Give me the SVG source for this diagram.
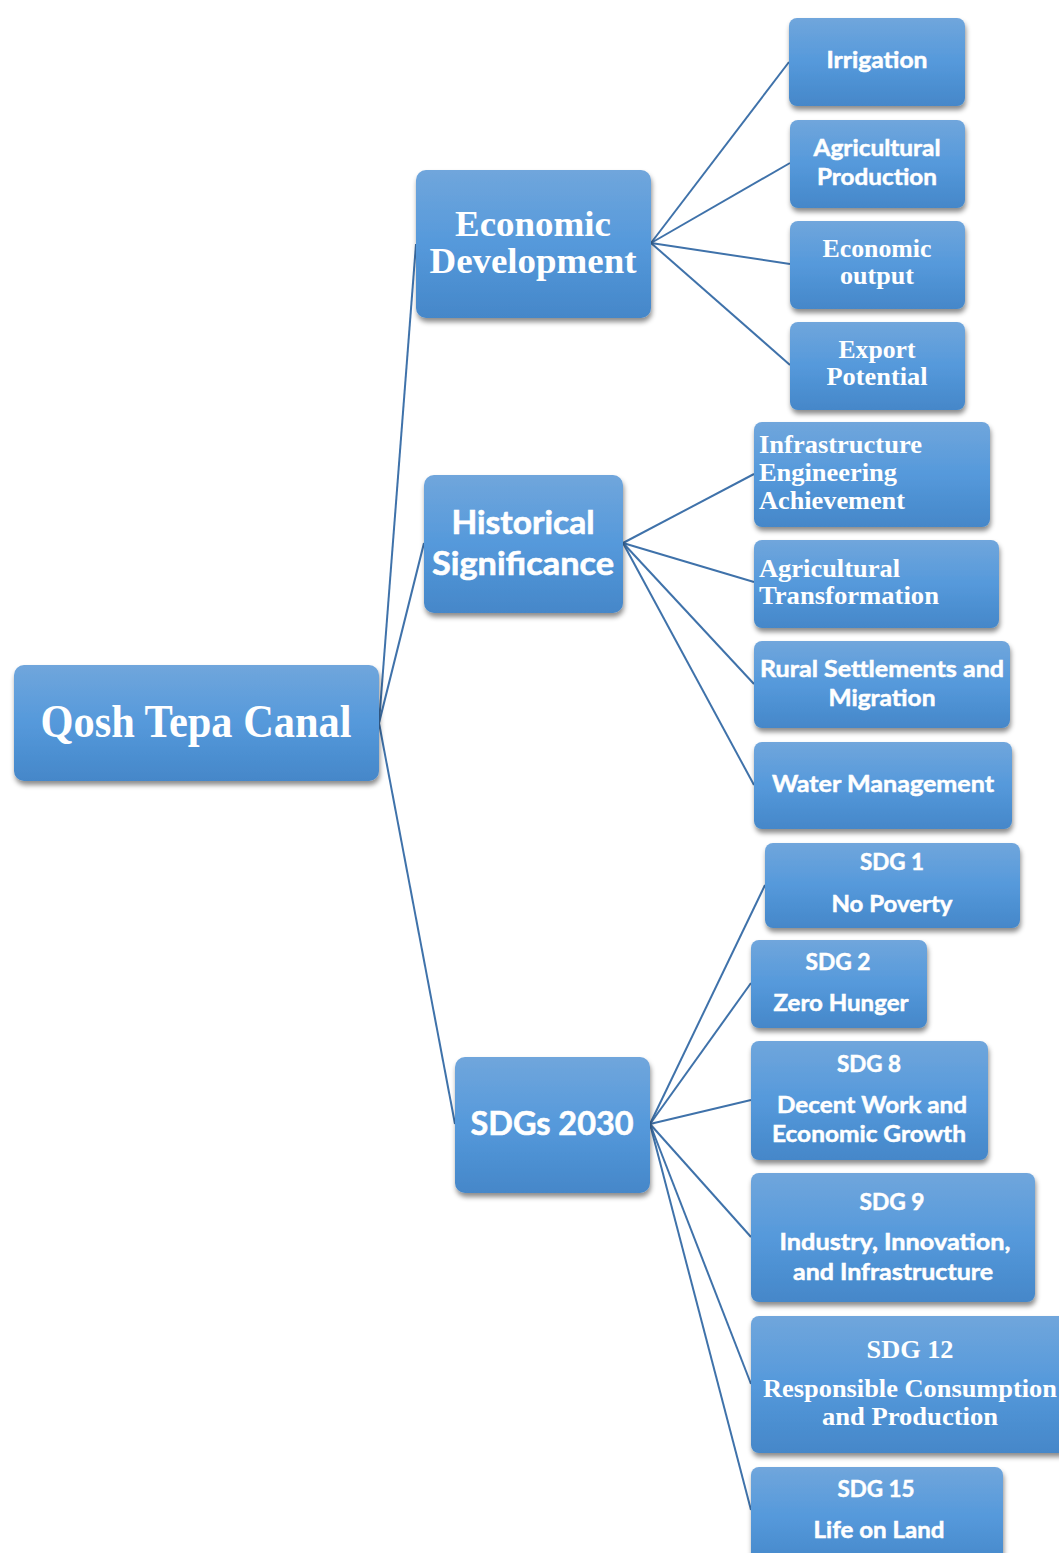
<svg xmlns="http://www.w3.org/2000/svg" width="1059" height="1553" viewBox="0 0 1059 1553">
<defs>
<linearGradient id="g" x1="0" y1="0" x2="0" y2="1">
<stop offset="0" stop-color="#70A6DC"/>
<stop offset="0.5" stop-color="#5599DB"/>
<stop offset="1" stop-color="#4587C9"/>
</linearGradient>
<filter id="sh" x="-10%" y="-10%" width="125%" height="130%">
<feDropShadow dx="1" dy="4" stdDeviation="2.5" flood-color="#000" flood-opacity="0.45"/>
</filter>
</defs>
<style>
rect.n{fill:url(#g);filter:url(#sh)}
text{fill:#fff;font-weight:bold}
.s{font-family:Lato,"Open Sans","Liberation Sans",sans-serif;font-size:23px;stroke:#fff;stroke-width:0.5}
.S{font-family:Lato,"Open Sans","Liberation Sans",sans-serif;font-size:32px;stroke:#fff;stroke-width:0.6}
.r{font-family:"Liberation Serif","Times New Roman",serif;font-size:26px}
.R{font-family:"Liberation Serif","Times New Roman",serif;font-size:36px}
.c{text-anchor:middle}
#edges line{stroke:#3F72AA;stroke-width:2}
</style>
<rect width="1059" height="1553" fill="#fff"/>
<g id="edges">
<line x1="379" y1="723" x2="416" y2="244"/>
<line x1="379" y1="723" x2="424" y2="543"/>
<line x1="379" y1="723" x2="455" y2="1124"/>
<line x1="651" y1="243" x2="789" y2="62"/>
<line x1="651" y1="243" x2="790" y2="163"/>
<line x1="651" y1="243" x2="790" y2="264"/>
<line x1="651" y1="243" x2="790" y2="365"/>
<line x1="623" y1="543" x2="754" y2="474"/>
<line x1="623" y1="543" x2="754" y2="582"/>
<line x1="623" y1="543" x2="754" y2="684"/>
<line x1="623" y1="543" x2="754" y2="785"/>
<line x1="650" y1="1124" x2="765" y2="885"/>
<line x1="650" y1="1124" x2="751" y2="983"/>
<line x1="650" y1="1124" x2="751" y2="1100"/>
<line x1="650" y1="1124" x2="751" y2="1237"/>
<line x1="650" y1="1124" x2="751" y2="1384"/>
<line x1="650" y1="1124" x2="751" y2="1510"/>
</g>
<g id="root"><rect class="n" x="14" y="665" width="365" height="116" rx="10"/>
<text class="r c" style="font-size:46px" x="196" y="737" textLength="311" lengthAdjust="spacingAndGlyphs">Qosh Tepa Canal</text></g>
<g id="econ"><rect class="n" x="416" y="170" width="235" height="148" rx="10"/>
<text class="R c" x="533" y="236" textLength="156" lengthAdjust="spacingAndGlyphs">Economic</text>
<text class="R c" x="533" y="273" textLength="207" lengthAdjust="spacingAndGlyphs">Development</text></g>
<g id="irrigation"><rect class="n" x="789" y="18" width="176" height="88" rx="8"/>
<text class="s c" x="877" y="68" textLength="101" lengthAdjust="spacingAndGlyphs">Irrigation</text></g>
<g id="agprod"><rect class="n" x="790" y="120" width="175" height="88" rx="8"/>
<text class="s c" x="877" y="156" textLength="127" lengthAdjust="spacingAndGlyphs">Agricultural</text>
<text class="s c" x="877" y="185" textLength="120" lengthAdjust="spacingAndGlyphs">Production</text></g>
<g id="econout"><rect class="n" x="790" y="221" width="175" height="88" rx="8"/>
<text class="r c" x="877" y="257" textLength="109" lengthAdjust="spacingAndGlyphs">Economic</text>
<text class="r c" x="877" y="284" textLength="74" lengthAdjust="spacingAndGlyphs">output</text></g>
<g id="export"><rect class="n" x="790" y="322" width="175" height="88" rx="8"/>
<text class="r c" x="877" y="358" textLength="77" lengthAdjust="spacingAndGlyphs">Export</text>
<text class="r c" x="877" y="385" textLength="101" lengthAdjust="spacingAndGlyphs">Potential</text></g>
<g id="hist"><rect class="n" x="424" y="475" width="199" height="138" rx="10"/>
<text class="S c" x="523" y="534" textLength="143" lengthAdjust="spacingAndGlyphs">Historical</text>
<text class="S c" x="523" y="575" textLength="182" lengthAdjust="spacingAndGlyphs">Significance</text></g>
<g id="infra"><rect class="n" x="754" y="422" width="236" height="105" rx="8"/>
<text class="r" x="759" y="453" textLength="163" lengthAdjust="spacingAndGlyphs">Infrastructure</text>
<text class="r" x="759" y="481" textLength="138" lengthAdjust="spacingAndGlyphs">Engineering</text>
<text class="r" x="759" y="509" textLength="146" lengthAdjust="spacingAndGlyphs">Achievement</text></g>
<g id="agtrans"><rect class="n" x="754" y="540" width="245" height="88" rx="8"/>
<text class="r" x="759" y="577" textLength="141" lengthAdjust="spacingAndGlyphs">Agricultural</text>
<text class="r" x="759" y="604" textLength="180" lengthAdjust="spacingAndGlyphs">Transformation</text></g>
<g id="rural"><rect class="n" x="754" y="641" width="256" height="87" rx="8"/>
<text class="s c" x="882" y="677" textLength="244" lengthAdjust="spacingAndGlyphs">Rural Settlements and</text>
<text class="s c" x="882" y="706" textLength="107" lengthAdjust="spacingAndGlyphs">Migration</text></g>
<g id="water"><rect class="n" x="754" y="742" width="258" height="87" rx="8"/>
<text class="s c" x="883" y="792" textLength="222" lengthAdjust="spacingAndGlyphs">Water Management</text></g>
<g id="sdgs"><rect class="n" x="455" y="1057" width="195" height="136" rx="10"/>
<text class="S c" style="font-size:33px" x="552" y="1135" textLength="163" lengthAdjust="spacingAndGlyphs">SDGs 2030</text></g>
<g id="sdg1"><rect class="n" x="765" y="843" width="255" height="85" rx="8"/>
<text class="s c" x="892" y="870" textLength="64" lengthAdjust="spacingAndGlyphs">SDG 1</text>
<text class="s c" x="892" y="912" textLength="121" lengthAdjust="spacingAndGlyphs">No Poverty</text></g>
<g id="sdg2"><rect class="n" x="751" y="940" width="176" height="88" rx="8"/>
<text class="s c" x="838" y="970" textLength="65" lengthAdjust="spacingAndGlyphs">SDG 2</text>
<text class="s c" x="841" y="1011" textLength="135" lengthAdjust="spacingAndGlyphs">Zero Hunger</text></g>
<g id="sdg8"><rect class="n" x="751" y="1041" width="237" height="119" rx="8"/>
<text class="s c" x="869" y="1072" textLength="64" lengthAdjust="spacingAndGlyphs">SDG 8</text>
<text class="s c" x="872" y="1113" textLength="190" lengthAdjust="spacingAndGlyphs">Decent Work and</text>
<text class="s c" x="869" y="1142" textLength="194" lengthAdjust="spacingAndGlyphs">Economic Growth</text></g>
<g id="sdg9"><rect class="n" x="751" y="1173" width="284" height="129" rx="8"/>
<text class="s c" x="892" y="1210" textLength="65" lengthAdjust="spacingAndGlyphs">SDG 9</text>
<text class="s c" x="895" y="1250" textLength="231" lengthAdjust="spacingAndGlyphs">Industry, Innovation,</text>
<text class="s c" x="893" y="1280" textLength="200" lengthAdjust="spacingAndGlyphs">and Infrastructure</text></g>
<g id="sdg12"><rect class="n" x="751" y="1316" width="320" height="137" rx="8"/>
<text class="r c" x="910" y="1358" textLength="87" lengthAdjust="spacingAndGlyphs">SDG 12</text>
<text class="r c" x="910" y="1397" textLength="294" lengthAdjust="spacingAndGlyphs">Responsible Consumption</text>
<text class="r c" x="910" y="1425" textLength="176" lengthAdjust="spacingAndGlyphs">and Production</text></g>
<g id="sdg15"><rect class="n" x="751" y="1467" width="252" height="100" rx="8"/>
<text class="s c" x="876" y="1497" textLength="77" lengthAdjust="spacingAndGlyphs">SDG 15</text>
<text class="s c" x="879" y="1538" textLength="131" lengthAdjust="spacingAndGlyphs">Life on Land</text></g>
</svg>
